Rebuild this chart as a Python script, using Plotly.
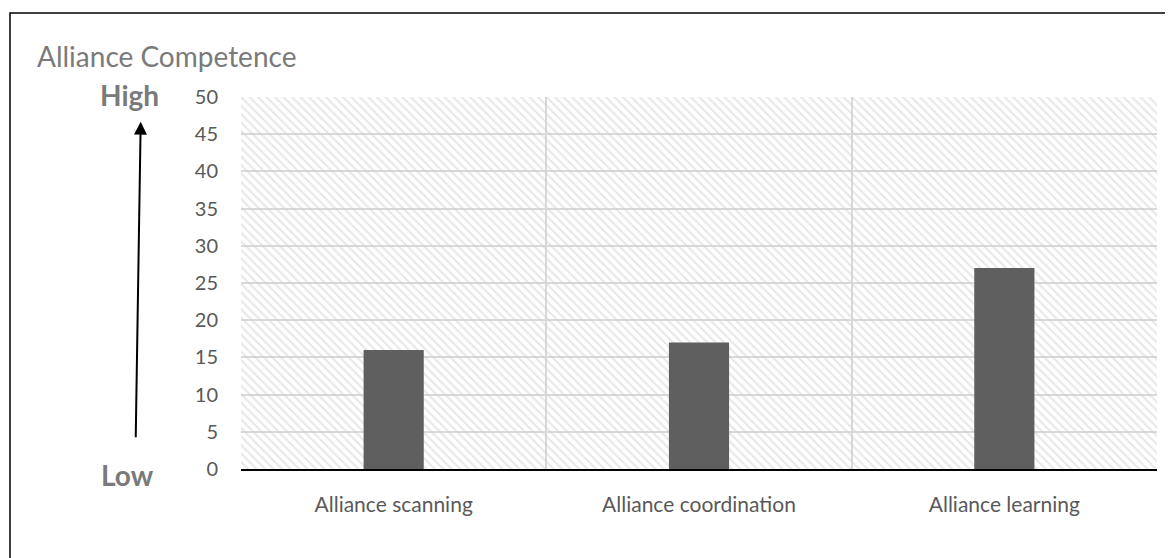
import plotly.graph_objects as go

categories = ["Alliance scanning", "Alliance coordination", "Alliance learning"]
values = [16, 17, 27]
y_max = 50
y_ticks = [0, 5, 10, 15, 20, 25, 30, 35, 40, 45, 50]

OFF = 8  # page body margin
W, H = 1165, 550
L, T = 241 - OFF, 97 - OFF
R = W - (1157 - OFF)
B = H - (469 - OFF)
pw, ph = W - L - R, H - T - B

def px(x):
    return (x - OFF - L) / pw

def py(y):
    return (H - B - (y - OFF)) / ph

FONT = "Lato"

fig = go.Figure()
# hatched plot background
fig.add_trace(go.Bar(
    x=categories, y=[y_max] * len(categories), width=1,
    marker=dict(color="rgba(0,0,0,0)", line=dict(width=0),
                pattern=dict(shape="\\", fgcolor="#cfcfcf", bgcolor="rgba(0,0,0,0)", size=6, solidity=0.35)),
    hoverinfo="skip", showlegend=False,
))
fig.add_trace(go.Bar(
    x=categories, y=values, width=0.197,
    marker=dict(color="#5f5f5f", line=dict(width=0)),
    showlegend=False,
))

fig.update_layout(
    width=W, height=H,
    margin=dict(l=L, r=R, t=T, b=B),
    paper_bgcolor="white", plot_bgcolor="white",
    barmode="overlay",
    font=dict(family=FONT, color="#595959"),
    xaxis=dict(type="category", range=[-0.5, 2.5], tickson="boundaries", showgrid=True,
               gridcolor="#d9d9d9", gridwidth=1.5, ticks="", showline=True, linecolor="#000000",
               linewidth=2, tickfont=dict(size=21, color="#595959"), ticklabelstandoff=16),
    yaxis=dict(range=[0, y_max], tickvals=y_ticks, showgrid=True, gridcolor="#d9d9d9",
               gridwidth=1.5, zeroline=False, showline=False, ticks="",
               tickfont=dict(size=20, color="#595959"), ticklabelstandoff=22),
)

# figure border
fig.add_shape(type="rect", xref="paper", yref="paper",
              x0=px(10), x1=px(1200), y0=py(13), y1=py(590),
              line=dict(color="#000000", width=1.5), layer="above")

fig.add_annotation(text="Alliance Competence", xref="paper", yref="paper",
                   x=px(35), y=py(56), xanchor="left", yanchor="middle", showarrow=False,
                   font=dict(family=FONT, size=28, color="#7a7a7a"))
fig.add_annotation(text="<b>High</b>", xref="paper", yref="paper",
                   x=px(129), y=py(95), xanchor="center", yanchor="middle", showarrow=False,
                   font=dict(family=FONT, size=28, color="#7a7a7a"))
fig.add_annotation(text="<b>Low</b>", xref="paper", yref="paper",
                   x=px(127), y=py(475), xanchor="center", yanchor="middle", showarrow=False,
                   font=dict(family=FONT, size=28, color="#7a7a7a"))
fig.add_annotation(text="", xref="paper", yref="paper",
                   x=px(140.7), y=py(121.7), ax=-5, ay=317, axref="pixel", ayref="pixel",
                   showarrow=True, arrowhead=2, arrowsize=1.3, arrowwidth=2,
                   arrowcolor="#000000", standoff=0)

fig.write_html("out.html")
